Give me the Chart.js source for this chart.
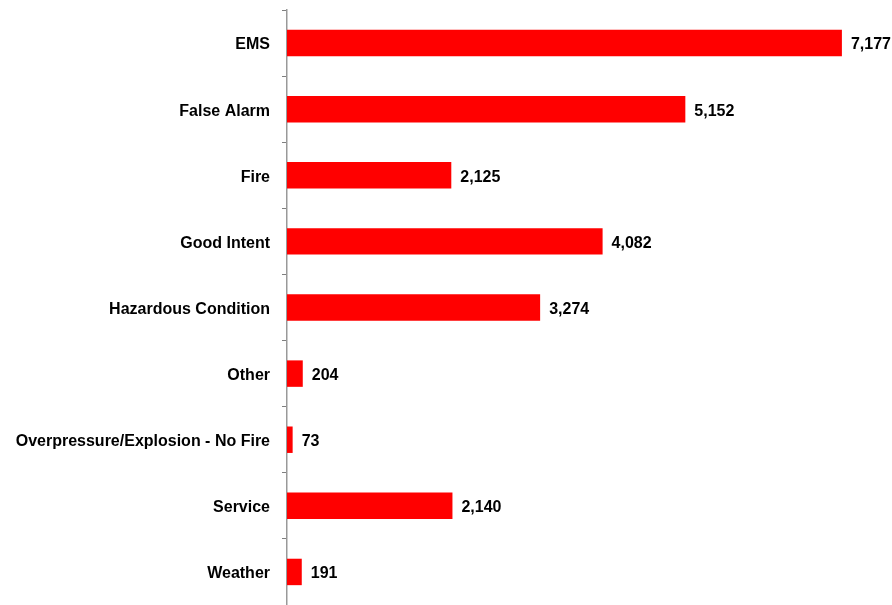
<!DOCTYPE html>
<html>
<head>
<meta charset="utf-8">
<script src="https://cdn.jsdelivr.net/npm/chart.js@4.4.0/dist/chart.umd.min.js"></script>
<style>
    html, body { margin: 0; padding: 0; background: #fff; }
    #wrap { width: 892px; height: 605px; }
</style>
</head>
<body>
<div id="wrap"><canvas id="chart-area" width="892" height="605"></canvas></div>
<script>
var categories = ['EMS', 'False Alarm', 'Fire', 'Good Intent', 'Hazardous Condition', 'Other',
    'Overpressure/Explosion - No Fire', 'Service', 'Weather'];
var incidents = [7177, 5152, 2125, 4082, 3274, 204, 73, 2140, 191];

var labelFont = 'bold 16px "Liberation Sans", Arial, sans-serif';

// draws the value next to the end of each bar
var valueLabels = {
    id: 'valueLabels',
    afterDatasetsDraw: function(chart) {
        var ctx = chart.ctx,
            meta = chart.getDatasetMeta(0);
        ctx.save();
        ctx.font = labelFont;
        ctx.fillStyle = '#000';
        ctx.textAlign = 'left';
        ctx.textBaseline = 'middle';
        for(var i = 0; i < meta.data.length; i++) {
            var bar = meta.data[i];
            ctx.fillText(incidents[i].toLocaleString('en-US'), bar.x + 9, bar.y + 2);
        }
        ctx.restore();
    }
};

var config = {
    type: 'bar',
    data: {
        labels: categories,
        datasets: [{
            data: incidents,
            backgroundColor: '#ff0000',
            borderWidth: 0,
            barPercentage: 0.4,
            categoryPercentage: 1
        }]
    },
    options: {
        indexAxis: 'y',
        responsive: false,
        animation: false,
        layout: { padding: { top: 10, bottom: 0, left: 0, right: 0 } },
        plugins: {
            legend: { display: false },
            tooltip: { enabled: false }
        },
        scales: {
            x: {
                display: false,
                min: 0,
                max: 7825
            },
            y: {
                afterFit: function(scale) {
                    // fixed axis width, no extra room for first/last label
                    scale.width = 287;
                    scale.paddingTop = 0;
                    scale.paddingBottom = 0;
                },
                border: { display: true, color: '#999999', width: 1.5 },
                grid: {
                    offset: true,
                    drawOnChartArea: false,
                    drawTicks: true,
                    tickLength: 5,
                    color: '#7f7f7f'
                },
                ticks: {
                    padding: 12,
                    labelOffset: 2,
                    color: '#000',
                    font: { family: '"Liberation Sans", Arial, sans-serif', size: 16, weight: 'bold' }
                }
            }
        }
    },
    plugins: [valueLabels]
};

var ctx = document.getElementById('chart-area').getContext('2d');
window.myBar = new Chart(ctx, config);
</script>
</body>
</html>
